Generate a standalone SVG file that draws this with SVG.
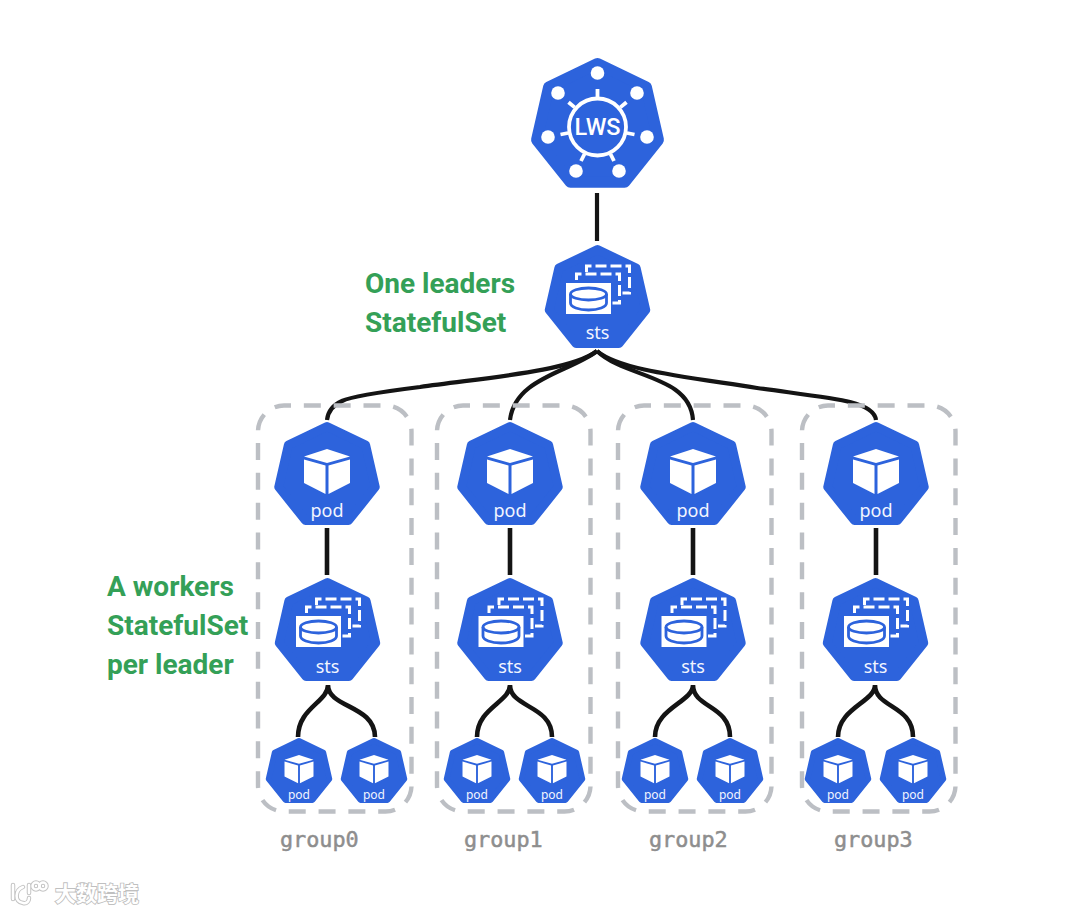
<svg xmlns="http://www.w3.org/2000/svg" width="1080" height="913" viewBox="0 0 1080 913">
<style>
.hept{fill:#2d63dc;stroke:#2d63dc;stroke-width:9;stroke-linejoin:round}
.conn{fill:none;stroke:#141414;stroke-width:4.200;stroke-linecap:butt}
.grp{fill:none;stroke:#bcbfc4;stroke-width:4.400;stroke-dasharray:17 12.830;stroke-dashoffset:10}
.lbl{font-family:"Noto Sans",sans-serif;fill:#f2f5ff;text-anchor:middle;font-size:18px}
.sm{font-size:12px}
.note{font-family:Roboto,sans-serif;font-weight:700;font-size:28px;fill:#34a057}
.gname{font-family:"DejaVu Sans Mono",monospace;font-size:21.800px;fill:#8e8e8e;stroke:#8e8e8e;stroke-width:.5}
</style>
<defs>
<polygon id="hp" class="hept" points="0,-49.5 38.67,-30.85 48.23,11 21.47,44.57 -21.47,44.57 -48.23,11 -38.67,-30.85"/>
<g id="podI">
<use href="#hp"/>
<path fill="#fff" d="M0,-27 L23,-19.500 L0,-13 L-23,-19.500Z M-23,-16.500 L-1.500,-10.500 V18 L-23,7Z M23,-16.500 L1.500,-10.500 V18 L23,7Z"/>
</g>
<g id="stsI">
<use href="#hp"/>
<g fill="none" stroke="#fff" stroke-width="3">
<path stroke-dasharray="11 4" d="M-21,-19V-25H22V4H15"/>
<path stroke-dasharray="11 4" d="M-11,-27V-33H32V-6H25"/>
</g>
<rect x="-31.500" y="-16" width="45" height="31" fill="#fff"/>
<g fill="none" stroke="#2d63dc" stroke-width="2.800">
<ellipse cx="-9" cy="-5" rx="18" ry="6"/>
<path d="M-27,-5V4C-27,8 -19,11 -9,11C1,11 9,8 9,4V-5"/>
</g>
</g>
</defs>
<rect width="1080" height="913" fill="#fff"/>
<g id="connectors">
<path class="conn" d="M597 193V241"/>
<path class="conn" d="M597 351C570 372 480 378 420 387C380 392 352 396 342 401C333 405 328 411 327 420"/>
<path class="conn" d="M597 351C570 372 515 378 510 420"/>
<path class="conn" d="M597 351C625 378 690 375 693 420"/>
<path class="conn" d="M597 351C620 370 680 376 757 388C800 394 835 398 850 402C866 406 875 412 876 420"/>
<path class="conn" d="M327 528V575M510 528V575M693 528V575M876 528V575" style="stroke-width:4.600"/>
<path class="conn" d="M328 685C328 702 298 708 298 737M328 685C328 708 375 705 375 737" style="stroke-width:4.600"/>
<path class="conn" d="M510 685C510 702 477 708 477 737M510 685C510 708 552 705 552 737" style="stroke-width:4.600"/>
<path class="conn" d="M693 685C693 702 655 708 655 737M693 685C693 708 730 705 730 737" style="stroke-width:4.600"/>
<path class="conn" d="M875 685C875 702 838 708 838 737M875 685C875 708 913 705 913 737" style="stroke-width:4.600"/>
</g>
<g id="group0"><rect class="grp" x="258" y="405.500" width="153.500" height="406" rx="26"/><text class="gname" x="280" y="847">group0</text></g>
<g id="group1"><rect class="grp" x="437" y="405.500" width="153.500" height="406" rx="26"/><text class="gname" x="464" y="847">group1</text></g>
<g id="group2"><rect class="grp" x="618" y="405.500" width="153.500" height="406" rx="26"/><text class="gname" x="649" y="847">group2</text></g>
<g id="group3"><rect class="grp" x="802" y="405.500" width="153.500" height="406" rx="26"/><text class="gname" x="834" y="847">group3</text></g>
<g id="lws">
<use href="#hp" transform="translate(597.500,126) scale(1.26)"/>
<g fill="#fff"><circle cx="597.500" cy="73" r="6.800"/><circle cx="637" cy="93" r="6.800"/><circle cx="647" cy="137" r="6.800"/><circle cx="619" cy="171" r="6.800"/><circle cx="576" cy="171" r="6.800"/><circle cx="548" cy="137" r="6.800"/><circle cx="558" cy="93" r="6.800"/></g>
<g fill="none" stroke="#fff" stroke-width="3.800" transform="translate(597.500,127)">
<circle r="28.500"/>
<path d="M0,-29V-38M22.800,-19.600L29,-24.800M-22.800,-19.600L-29,-24.800M29.400,6L37,7.500M-29.400,6L-37,7.500M13,27L16.500,34M-13,27L-16.500,34"/>
</g>
<text x="597.500" y="134.500" font-family="Roboto,sans-serif" font-weight="500" font-size="23.500" fill="#fff" text-anchor="middle">LWS</text>
</g>
<g id="leader-sts"><use href="#stsI" transform="translate(597.500,299)"/><text class="lbl" x="597.500" y="338.500">sts</text></g>
<g id="pod0"><use href="#podI" transform="translate(327,476)"/><text class="lbl" x="327" y="516.500">pod</text></g>
<g id="pod1"><use href="#podI" transform="translate(510,476)"/><text class="lbl" x="510" y="516.500">pod</text></g>
<g id="pod2"><use href="#podI" transform="translate(693,476)"/><text class="lbl" x="693" y="516.500">pod</text></g>
<g id="pod3"><use href="#podI" transform="translate(876,476)"/><text class="lbl" x="876" y="516.500">pod</text></g>
<g id="sts0"><use href="#stsI" transform="translate(327.500,632)"/><text class="lbl" x="327.500" y="672.500">sts</text></g>
<g id="sts1"><use href="#stsI" transform="translate(510,632)"/><text class="lbl" x="510" y="672.500">sts</text></g>
<g id="sts2"><use href="#stsI" transform="translate(693,632)"/><text class="lbl" x="693" y="672.500">sts</text></g>
<g id="sts3"><use href="#stsI" transform="translate(875.500,632)"/><text class="lbl" x="875.500" y="672.500">sts</text></g>
<g id="w00"><use href="#podI" transform="translate(299,772) scale(.63)"/><text class="lbl sm" x="299" y="798.500">pod</text></g>
<g id="w01"><use href="#podI" transform="translate(374,772) scale(.63)"/><text class="lbl sm" x="374" y="798.500">pod</text></g>
<g id="w10"><use href="#podI" transform="translate(477,772) scale(.63)"/><text class="lbl sm" x="477" y="798.500">pod</text></g>
<g id="w11"><use href="#podI" transform="translate(552,772) scale(.63)"/><text class="lbl sm" x="552" y="798.500">pod</text></g>
<g id="w20"><use href="#podI" transform="translate(655,772) scale(.63)"/><text class="lbl sm" x="655" y="798.500">pod</text></g>
<g id="w21"><use href="#podI" transform="translate(730,772) scale(.63)"/><text class="lbl sm" x="730" y="798.500">pod</text></g>
<g id="w30"><use href="#podI" transform="translate(838,772) scale(.63)"/><text class="lbl sm" x="838" y="798.500">pod</text></g>
<g id="w31"><use href="#podI" transform="translate(913,772) scale(.63)"/><text class="lbl sm" x="913" y="798.500">pod</text></g>
<g id="notes">
<text class="note" x="365" y="293">One leaders</text>
<text class="note" x="365" y="332">StatefulSet</text>
<text class="note" x="107" y="596">A workers</text>
<text class="note" x="107" y="635">StatefulSet</text>
<text class="note" x="107" y="674">per leader</text>
</g>
<g id="watermark">
<g fill="none" stroke="#c4c4c4" stroke-width="4.500" stroke-linecap="round"><path d="M13 885V899M23 887C15 890 14 902 23 903C27 904 29 901 29 898M29 885V893"/><circle cx="36" cy="886" r="3.500"/><circle cx="43" cy="886" r="3.500"/></g>
<g fill="none" stroke="#fff" stroke-width="2.500" stroke-linecap="round"><path d="M13 885V899M23 887C15 890 14 902 23 903C27 904 29 901 29 898M29 885V893"/><circle cx="36" cy="886" r="3.500"/><circle cx="43" cy="886" r="3.500"/></g>
<text x="55" y="901" font-family="'Noto Sans CJK SC',sans-serif" font-weight="700" font-size="21" fill="#fff" stroke="#c0c0c0" stroke-width="1.800" paint-order="stroke">大数跨境</text>
</g>
</svg>
